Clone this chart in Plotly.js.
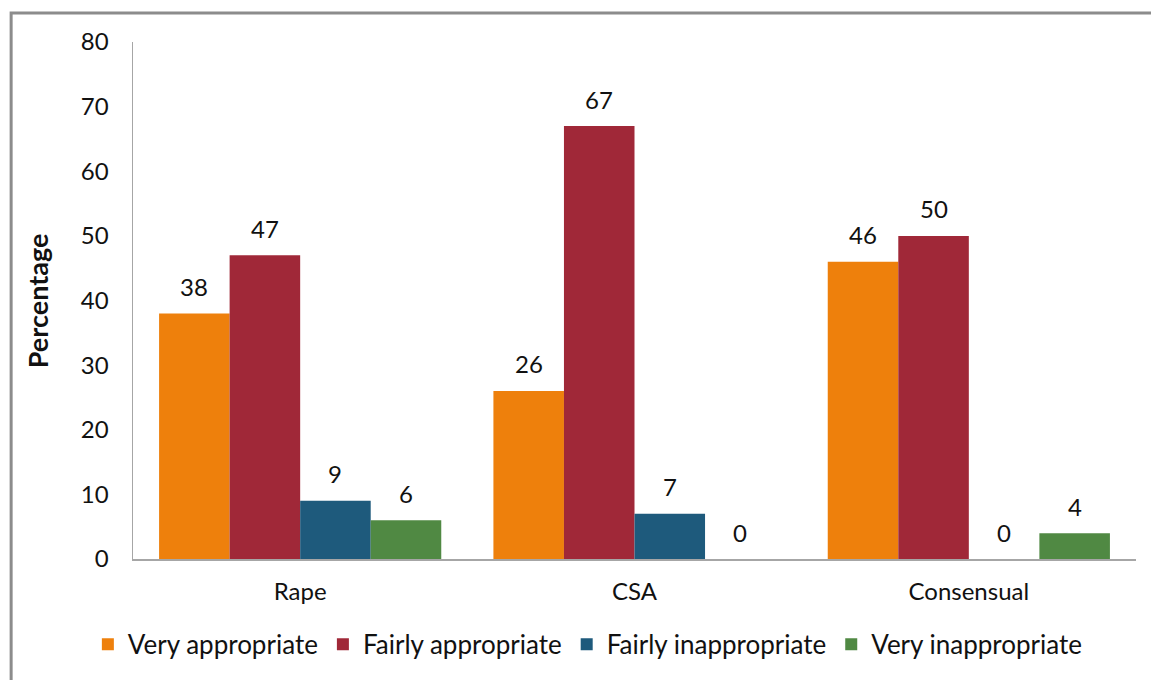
<!DOCTYPE html>
<html>
<head>
<meta charset="utf-8">
<script src="https://cdn.plot.ly/plotly-3.0.1.min.js"></script>
<style>
  html, body { margin: 0; padding: 0; background: #ffffff; }
  #chart { width: 1151px; height: 680px; }
</style>
</head>
<body>
<div id="chart"></div>
<script>
// Offence types on the x axis
const categories = ["Rape", "CSA", "Consensual"];

// Percentage of responses per rating
const veryAppropriate = [38, 26, 46];
const fairlyAppropriate = [47, 67, 50];
const fairlyInappropriate = [9, 7, 0];
const veryInappropriate = [6, 0, 4];

const seriesNames = ["Very appropriate", "Fairly appropriate", "Fairly inappropriate", "Very inappropriate"];
const seriesValues = [veryAppropriate, fairlyAppropriate, fairlyInappropriate, veryInappropriate];
const seriesColors = ["#EE800C", "#A02838", "#1E5A7C", "#508943"];

const yTicks = [0, 10, 20, 30, 40, 50, 60, 70, 80];
const yTitle = "Percentage";

const FONT = "Lato, 'Open Sans', sans-serif";
const BARGAP = 0.156;

const traces = seriesNames.map((name, i) => ({
  type: "bar",
  name: name,
  x: categories,
  y: seriesValues[i],
  marker: { color: seriesColors[i], line: { width: 0 } },
  hoverinfo: "x+y+name"
}));

// Value labels above each bar, placed at the centre of the bar slot within its group
const slot = (1 - BARGAP) / seriesNames.length;
const annotations = [];
seriesValues.forEach((vals, j) => {
  vals.forEach((v, i) => {
    annotations.push({
      xref: "x", yref: "y",
      x: i + (j - (seriesNames.length - 1) / 2) * slot,
      y: v,
      text: String(v),
      showarrow: false,
      yanchor: "middle",
      yshift: 27,
      font: { family: FONT, size: 24, color: "#111111" }
    });
  });
});

// Vertical axis title, set a little further out than Plotly's default placement
annotations.push({
  xref: "paper", yref: "paper",
  x: -0.095, y: 0.5,
  xanchor: "center", yanchor: "middle",
  text: "<b>" + yTitle + "</b>",
  textangle: -90,
  showarrow: false,
  font: { family: FONT, size: 27, color: "#111111" }
});

const layout = {
  width: 1151,
  height: 680,
  margin: { l: 133, r: 15, t: 42, b: 121 },
  paper_bgcolor: "#ffffff",
  plot_bgcolor: "#ffffff",
  barmode: "group",
  bargap: BARGAP,
  bargroupgap: 0,
  font: { family: FONT, size: 24, color: "#111111" },
  xaxis: {
    type: "category",
    showgrid: false,
    zeroline: false,
    showline: true,
    linecolor: "#a6a6a6",
    linewidth: 2,
    ticks: "",
    ticklabelstandoff: 10,
    tickfont: { family: FONT, size: 24, color: "#111111" }
  },
  yaxis: {
    range: [0, 80],
    tickvals: yTicks,
    ticktext: yTicks.map(String),
    showgrid: false,
    zeroline: false,
    showline: true,
    linecolor: "#a6a6a6",
    linewidth: 1.5,
    ticks: "",
    ticklabelstandoff: 18,
    tickfont: { family: FONT, size: 24, color: "#111111" }
  },
  legend: {
    orientation: "h",
    x: -0.045,
    xanchor: "left",
    y: -0.165,
    yanchor: "middle",
    font: { family: FONT, size: 26, color: "#111111" },
    itemwidth: 30,
    traceorder: "normal"
  },
  annotations: annotations,
  shapes: [{
    type: "rect",
    xref: "paper", yref: "paper",
    x0: -0.1215, x1: 1.2,
    y0: -0.5, y1: 1.056,
    line: { color: "#8c8c8c", width: 3 },
    fillcolor: "rgba(0,0,0,0)",
    layer: "below"
  }]
};

Plotly.newPlot("chart", traces, layout, { displayModeBar: false, staticPlot: true });
</script>
</body>
</html>
